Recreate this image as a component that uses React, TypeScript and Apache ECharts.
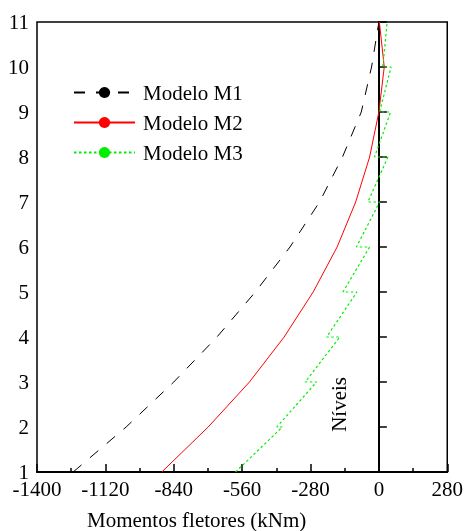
import React, { useEffect, useRef } from "react";
import * as echarts from "echarts";

const levels = [1, 2, 3, 4, 5, 6, 7, 8, 9, 10, 11];
const m1Values = [-1252, -1035, -840, -663, -506, -364, -243, -149, -72, -30, 0];
const m2Values = [-889, -699, -530, -388, -269, -171, -95, -38, 0, 22, 2];
// M3: zig-zag path (moment, level) — jump at each floor
const m3Moments = [-587, -395, -418, -255, -302, -160, -214, -90, -147, -38, -92, 3, -45, 37, -18, 48, 3, 50, 16, 34];
const m3Levels = [1, 2, 2, 3, 3, 4, 4, 5, 5, 6, 6, 7, 7, 8, 8, 9, 9, 10, 10, 11];
const seriesNames = ["Modelo M1", "Modelo M2", "Modelo M3"];
const seriesColors = ["#000000", "#ff0000", "#00ee00"];
const xTitle = "Momentos fletores (kNm)";
const yTitle = "Níveis";

const FONT = "Liberation Serif";

export default function App() {
  const ref = useRef<HTMLDivElement>(null);
  useEffect(() => {
    if (!ref.current) return;
    const chart = echarts.init(ref.current, undefined, { renderer: "svg" });
    chart.setOption({
      animation: false,
      color: seriesColors,
      textStyle: { fontFamily: FONT },
      grid: {
        left: 37,
        right: 16,
        top: 22,
        bottom: 59,
        show: true,
        borderColor: "#000",
        borderWidth: 1.5,
      },
      legend: {
        left: 73,
        top: 82,
        padding: 0,
        orient: "vertical",
        itemWidth: 61,
        itemHeight: 14,
        itemGap: 9,
        textStyle: { fontFamily: FONT, fontSize: 21, color: "#000", padding: [0, 0, 0, 3] },
        data: seriesNames,
      },
      xAxis: {
        type: "value",
        min: -1400,
        max: 280,
        interval: 280,
        axisLine: { show: true, lineStyle: { color: "#000", width: 2 } },
        axisTick: { show: true, inside: true, length: 8, lineStyle: { color: "#000", width: 1.5 } },
        minorTick: { show: true, splitNumber: 2, length: 4, lineStyle: { color: "#000", width: 1.5 } },
        axisLabel: {
          fontFamily: FONT,
          fontSize: 21,
          color: "#000",
          margin: 6,
          formatter: (v: number) => String(v),
        },
        splitLine: { show: false },
      },
      yAxis: {
        type: "value",
        min: 1,
        max: 11,
        interval: 1,
        axisLine: { show: true, onZero: true, lineStyle: { color: "#000", width: 2 } },
        axisTick: { show: true, inside: true, length: 8, lineStyle: { color: "#000", width: 1.5 } },
        axisLabel: {
          fontFamily: FONT,
          fontSize: 21,
          color: "#000",
          margin: 8,
          formatter: (v: number) => String(v),
        },
        splitLine: { show: false },
      },
      graphic: [
        {
          type: "text",
          left: 87,
          top: 509,
          style: { text: xTitle, fontFamily: FONT, fontSize: 21, fill: "#000" },
        },
        {
          type: "text",
          left: 328,
          top: 377,
          rotation: Math.PI / 2,
          style: { text: yTitle, fontFamily: FONT, fontSize: 21, fill: "#000" },
        },
      ],
      series: [
        {
          name: seriesNames[0],
          type: "line",
          symbol: "none",
          data: m1Values.map((v, i) => [v, levels[i]]),
          lineStyle: { width: 1, type: 11 },
        },
        {
          name: seriesNames[1],
          type: "line",
          symbol: "none",
          data: m2Values.map((v, i) => [v, levels[i]]),
          lineStyle: { width: 1 },
        },
        {
          name: seriesNames[2],
          type: "line",
          symbol: "none",
          data: m3Moments.map((v, i) => [v, m3Levels[i]]),
          lineStyle: { width: 1.2, type: 2.5 },
        },
      ],
    });
    return () => chart.dispose();
  }, []);
  return (
    <div
      ref={ref}
      style={{ position: "fixed", left: 0, top: 0, width: 466, height: 531 }}
    />
  );
}
